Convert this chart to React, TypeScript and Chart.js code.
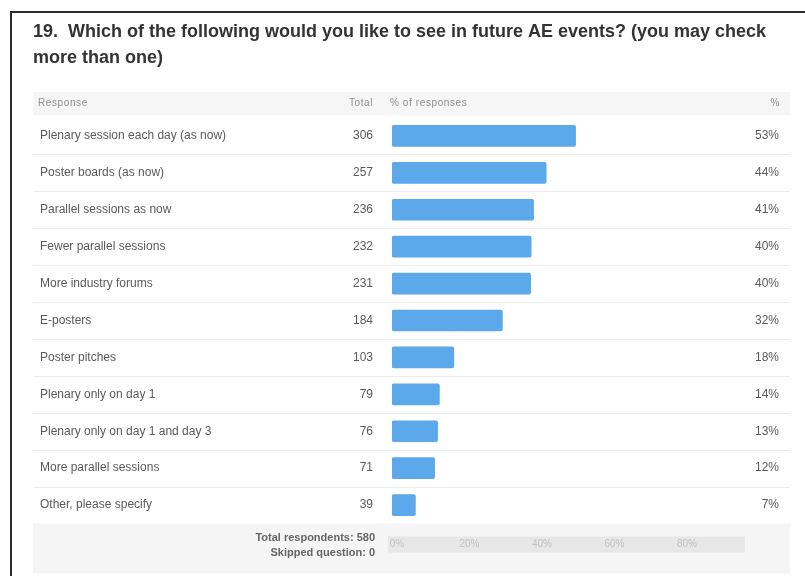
import React, { useEffect, useRef } from "react";
import { Chart, registerables } from "chart.js";

Chart.register(...registerables);

const title1 = "19.  Which of the following would you like to see in future AE events? (you may check";
const title2 = "more than one)";
const categories = [
  "Plenary session each day (as now)",
  "Poster boards (as now)",
  "Parallel sessions as now",
  "Fewer parallel sessions",
  "More industry forums",
  "E-posters",
  "Poster pitches",
  "Plenary only on day 1",
  "Plenary only on day 1 and day 3",
  "More parallel sessions",
  "Other, please specify",
];
const totals = [306, 257, 236, 232, 231, 184, 103, 79, 76, 71, 39];
const percentLabels = ["53%", "44%", "41%", "40%", "40%", "32%", "18%", "14%", "13%", "12%", "7%"];
const respondents = 580;
const skipped = 0;
const axisTicks = [0, 20, 40, 60, 80];

const FONT = '"Liberation Sans", Arial, sans-serif';

const tablePlugin = {
  id: "tablePlugin",
  beforeDatasetsDraw(chart: any) {
    const ctx = chart.ctx as CanvasRenderingContext2D;
    const y = chart.scales.y;
    const n = categories.length;
    ctx.save();
    // frame
    ctx.strokeStyle = "#2b2b2b";
    ctx.lineWidth = 2;
    ctx.beginPath();
    ctx.moveTo(11, 576);
    ctx.lineTo(11, 12);
    ctx.lineTo(805, 12);
    ctx.stroke();
    // title
    ctx.fillStyle = "#333";
    ctx.font = `bold 18px ${FONT}`;
    ctx.textBaseline = "middle";
    ctx.textAlign = "left";
    ctx.fillText(title1, 33, 32);
    ctx.fillText(title2, 33, 58);
    // header
    ctx.fillStyle = "#f6f6f6";
    ctx.fillRect(33, 92, 757, 23);
    ctx.fillStyle = "#8f8f8f";
    ctx.font = `10px ${FONT}`;
    (ctx as any).letterSpacing = "0.6px";
    ctx.fillText("Response", 38, 103);
    ctx.fillText("% of responses", 390, 103);
    ctx.textAlign = "right";
    ctx.fillText("Total", 373, 103);
    ctx.fillText("%", 780, 103);
    (ctx as any).letterSpacing = "0px";
    // row separators
    ctx.strokeStyle = "#ececec";
    ctx.lineWidth = 1;
    for (let i = 0; i < n - 1; i++) {
      const yy = Math.round((y.getPixelForValue(i) + y.getPixelForValue(i + 1)) / 2) + 0.5;
      ctx.beginPath();
      ctx.moveTo(33, yy);
      ctx.lineTo(790, yy);
      ctx.stroke();
    }
    // footer
    const fTop = chart.chartArea.bottom;
    ctx.fillStyle = "#f5f5f5";
    ctx.fillRect(33, fTop, 757, 50);
    const xt = chart.scales.xt;
    ctx.fillStyle = "#e7e7e7";
    ctx.fillRect(388, fTop + 13, 357, 16);
    ctx.font = `10px ${FONT}`;
    ctx.fillStyle = "#c2c2c2";
    ctx.textAlign = "center";
    axisTicks.forEach((t) => {
      ctx.fillText(`${t}%`, xt.getPixelForValue(t) + 5, fTop + 21);
    });
    ctx.fillStyle = "#666";
    ctx.font = `bold 11px ${FONT}`;
    ctx.textAlign = "right";
    ctx.fillText(`Total respondents: ${respondents}`, 375, fTop + 14);
    ctx.fillText(`Skipped question: ${skipped}`, 375, fTop + 29);
    // rows text
    ctx.font = `12px ${FONT}`;
    ctx.fillStyle = "#5a5a5a";
    for (let i = 0; i < n; i++) {
      const yy = y.getPixelForValue(i);
      ctx.textAlign = "left";
      ctx.fillText(categories[i], 40, yy);
      ctx.textAlign = "right";
      ctx.fillText(String(totals[i]), 373, yy);
      ctx.fillText(percentLabels[i], 779, yy);
    }
    ctx.restore();
  },
};

export default function App() {
  const ref = useRef<HTMLCanvasElement | null>(null);
  useEffect(() => {
    if (!ref.current) return;
    const chart = new Chart(ref.current, {
      type: "bar",
      data: {
        labels: categories,
        datasets: [
          {
            data: totals.map((t) => (t / respondents) * 100),
            backgroundColor: "#5ba8ea",
            borderRadius: 2,
            borderSkipped: false,
            barThickness: 21,
            xAxisID: "x",
            yAxisID: "y",
          },
        ],
      },
      options: {
        indexAxis: "y",
        animation: false,
        responsive: false,
        devicePixelRatio: 1,
        layout: { padding: { left: 392, right: 65, top: 117.5, bottom: 52.5 } },
        plugins: { legend: { display: false }, tooltip: { enabled: false } },
        scales: {
          x: { type: "linear", min: 0, max: 100, display: false },
          xt: { type: "linear", axis: "x", min: 0, max: 96, display: false },
          y: { type: "category", display: false },
        },
      },
      plugins: [tablePlugin],
    });
    return () => chart.destroy();
  }, []);
  return (
    <div style={{ position: "absolute", left: 0, top: 0, width: 805, height: 576, background: "#fff" }}>
      <canvas ref={ref} width={805} height={576} style={{ display: "block" }} />
    </div>
  );
}
